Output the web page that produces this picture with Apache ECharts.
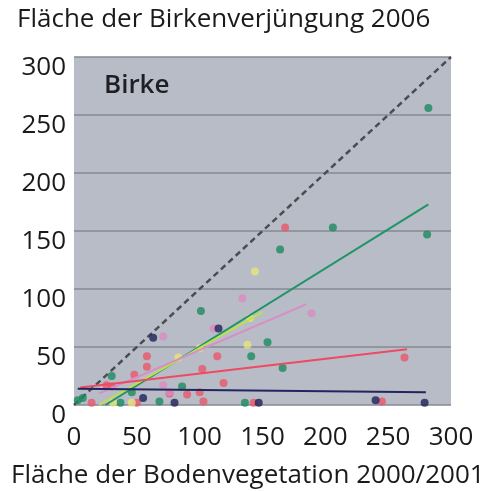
<!DOCTYPE html>
<html>
<head>
<meta charset="utf-8">
<script src="https://cdn.jsdelivr.net/npm/echarts@6/dist/echarts.min.js"></script>
<style>
  html, body { margin: 0; padding: 0; background: #fff; }
  #chart { width: 504px; height: 491px; }
</style>
</head>
<body>
<div id="chart"></div>
<script>
// Punkte je Gruppe [Bodenvegetation, Birkenverjüngung]
var greenPts = [[282, 256], [281, 147], [206, 153], [164, 134], [154, 54], [141, 42], [166, 32], [101, 81],
  [30, 25], [86, 16], [7, 6], [37, 2], [68, 3], [136, 2], [46, 11], [3, 4]];
var redPts = [[168, 153], [263, 41], [245, 3], [143, 2], [58, 42], [58, 33], [48, 26], [102, 31], [114, 42],
  [119, 19], [90, 9], [100, 11], [103, 3], [76, 10], [50, 2], [14, 2], [26, 17], [30, 16]];
var pinkPts = [[189, 79], [134, 92], [111, 66], [71, 59], [76, 11], [71, 17]];
var navyPts = [[115, 66], [63, 58], [55, 6], [80, 2], [240, 4], [279, 2], [147, 2]];
var yellowPts = [[144, 115], [140, 75], [138, 52], [100, 49], [83, 41], [31, 2], [46, 2]];

// Regressionsgeraden
var greenFit = [[25, 0], [282, 173]];
var limeFit = [[20, 0], [150, 80]];
var pinkFit = [[20, 10], [185, 87]];
var redFit = [[5, 15], [265, 48]];
var navyFit = [[3, 14], [280, 11]];
var diagonal = [[0, 0], [300, 300]];

var xTicks = [0, 50, 100, 150, 200, 250, 300];
var yTicks = [0, 50, 100, 150, 200, 250, 300];

var font = "Open Sans";

function pts(data, color) {
  return { type: "scatter", data: data, symbolSize: 8, itemStyle: { color: color }, z: 3 };
}
function fit(data, color, w) {
  return { type: "line", data: data, symbol: "none", lineStyle: { color: color, width: w || 2 }, z: 4 };
}

var chart = echarts.init(document.getElementById("chart"));
chart.setOption({
  animation: false,
  title: [
    { text: "Fläche der Birkenverjüngung 2006", left: 12, top: 2,
      textStyle: { fontFamily: font, fontSize: 26, fontWeight: 500, color: "#1a1a1a" } },
    { text: "Birke", left: 99, top: 68,
      textStyle: { fontFamily: font, fontSize: 26, fontWeight: 600, color: "#1e1e24" } },
    { text: "Fläche der Bodenvegetation 2000/2001", left: 6, top: 458,
      textStyle: { fontFamily: font, fontSize: 26, fontWeight: 500, color: "#1a1a1a" } }
  ],
  grid: { left: 74, right: 53, top: 57, bottom: 86, show: true,
    backgroundColor: "#b8bcc6", borderWidth: 0 },
  xAxis: {
    type: "value", min: 0, max: 300, interval: 50,
    axisLine: { show: false }, axisTick: { show: false }, splitLine: { show: false },
    axisLabel: { fontFamily: font, fontSize: 26, fontWeight: 500, color: "#1a1a1a", margin: 20,
      formatter: function (v) { return xTicks.indexOf(v) >= 0 ? String(v) : ""; } }
  },
  yAxis: {
    type: "value", min: 0, max: 300, interval: 50,
    axisLine: { show: false }, axisTick: { show: false },
    splitLine: { lineStyle: { color: "#858a93", width: 1.5 } },
    axisLabel: { fontFamily: font, fontSize: 26, fontWeight: 500, color: "#1a1a1a", margin: 8,
      verticalAlign: "top", lineHeight: 22,
      formatter: function (v) { return yTicks.indexOf(v) >= 0 ? String(v) : ""; } }
  },
  series: [
    { type: "line", data: diagonal, symbol: "none", z: 2,
      lineStyle: { color: "#4a4c52", width: 2.5, type: [6, 4] } },
    pts(greenPts, "#1c8a5e"),
    pts(redPts, "#e8566a"),
    pts(pinkPts, "#d98cc0"),
    pts(yellowPts, "#e6e47a"),
    pts(navyPts, "#1f2258"),
    fit(greenFit, "#1f9468"),
    fit(limeFit, "#bfe04a"),
    fit(pinkFit, "#d98cc8"),
    fit(redFit, "#ee4a62"),
    fit(navyFit, "#23265e")
  ]
});
</script>
</body>
</html>
